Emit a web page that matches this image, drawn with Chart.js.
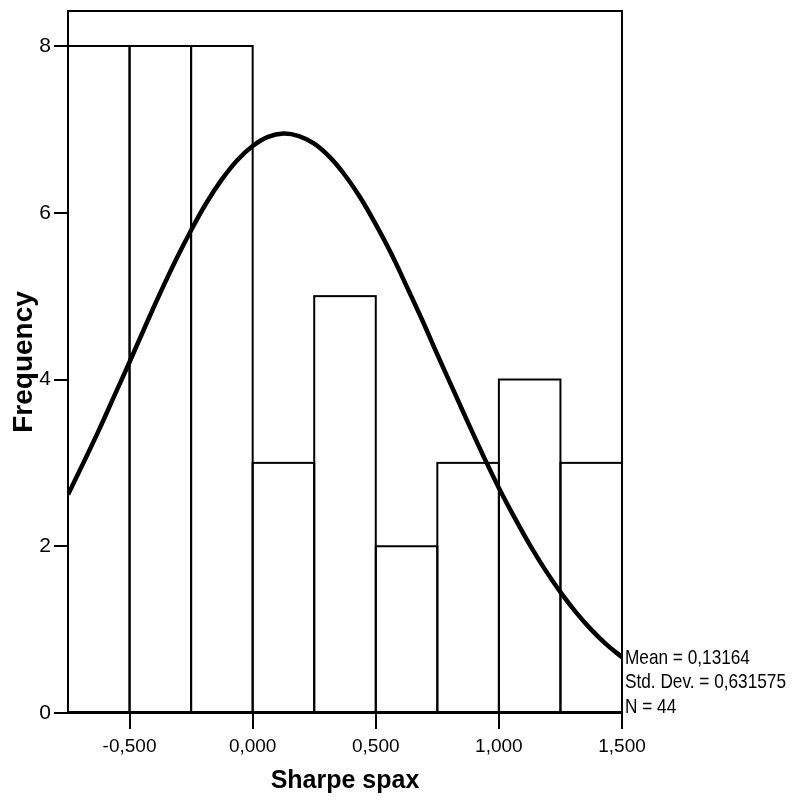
<!DOCTYPE html>
<html>
<head>
<meta charset="utf-8">
<script src="https://cdn.jsdelivr.net/npm/chart.js@4"></script>
<style>
  html, body { margin: 0; padding: 0; background: #fff; }
  #wrap { width: 798px; height: 800px; }
</style>
</head>
<body>
<div id="wrap"><canvas id="hist"></canvas></div>
<script>
// histogram bins (centres) and counts
const binCenters = [-0.625, -0.375, -0.125, 0.125, 0.375, 0.625, 0.875, 1.125, 1.375];
const binCounts = [8, 8, 8, 3, 5, 2, 3, 4, 3];

// normal curve
const curveX = [-0.75, -0.6875, -0.625, -0.5625, -0.5, -0.4375, -0.375, -0.3125, -0.25, -0.1875,
                -0.125, -0.0625, 0, 0.0625, 0.125, 0.1875, 0.25, 0.3125, 0.375, 0.4375,
                0.5, 0.5625, 0.625, 0.6875, 0.75, 0.8125, 0.875, 0.9375, 1.0, 1.0625,
                1.125, 1.1875, 1.25, 1.3125, 1.375, 1.4375, 1.5];
const curveY = [2.62, 3.00, 3.39, 3.80, 4.21, 4.63, 5.04, 5.43, 5.79, 6.12,
                6.40, 6.63, 6.80, 6.91, 6.95, 6.92, 6.83, 6.67, 6.45, 6.18,
                5.86, 5.51, 5.12, 4.72, 4.30, 3.89, 3.48, 3.08, 2.70, 2.35,
                2.02, 1.72, 1.45, 1.21, 1.00, 0.82, 0.67];

const xTicks = [-0.5, 0, 0.5, 1.0, 1.5];
const yTicks = [0, 2, 4, 6, 8];
const statsLines = ['Mean = 0,13164', 'Std. Dev. = 0,631575', 'N = 44'];

const font = '"Liberation Sans", Arial, sans-serif';

const framePlugin = {
    id: 'frame',
    afterDatasetDraw(chart, args) {
        // outline the histogram bars before the curve goes on top
        if (args.meta.type !== 'bar') return;
        const ctx = chart.ctx;
        ctx.save();
        ctx.strokeStyle = '#000';
        ctx.lineWidth = 2;
        args.meta.data.forEach(bar => {
            const p = bar.getProps(['x', 'y', 'base', 'width'], true);
            ctx.strokeRect(p.x - p.width / 2, p.y, p.width, p.base - p.y);
        });
        ctx.restore();
    },
    afterDatasetsDraw(chart) {
        const a = chart.chartArea;
        const ctx = chart.ctx;
        ctx.save();
        ctx.strokeStyle = '#000';
        ctx.lineWidth = 2;
        ctx.strokeRect(a.left, a.top, a.right - a.left, a.bottom - a.top);
        ctx.restore();
    },
    afterDraw(chart) {
        const a = chart.chartArea;
        const ctx = chart.ctx;
        ctx.save();
        ctx.fillStyle = '#000';
        ctx.font = '21px ' + font;
        ctx.textAlign = 'left';
        ctx.textBaseline = 'middle';
        statsLines.forEach((t, i) => {
            ctx.save();
            ctx.translate(a.right + 3, a.bottom - 6 - (statsLines.length - 1 - i) * 24.5);
            ctx.scale(0.82, 1);
            ctx.fillText(t, 0, 0);
            ctx.restore();
        });
        ctx.restore();
    }
};

const ctx = document.getElementById('hist').getContext('2d');
new Chart(ctx, {
    type: 'bar',
    data: {
        datasets: [
            {
                type: 'line',
                data: curveX.map((x, i) => ({ x: x, y: curveY[i] })),
                borderColor: '#000',
                borderWidth: 4.5,
                pointRadius: 0,
                tension: 0.4,
                order: 0
            },
            {
                type: 'bar',
                data: binCenters.map((x, i) => ({ x: x, y: binCounts[i] })),
                backgroundColor: 'rgba(0,0,0,0)',
                borderWidth: 0,
                barPercentage: 1,
                categoryPercentage: 1,
                order: 1
            }
        ]
    },
    options: {
        responsive: true,
        maintainAspectRatio: false,
        animation: false,
        layout: { padding: { top: 11, right: 176, left: 0, bottom: 0 } },
        plugins: {
            legend: { display: false },
            tooltip: { enabled: false }
        },
        scales: {
            x: {
                type: 'linear',
                min: -0.75,
                max: 1.5,
                offset: false,
                afterBuildTicks: s => { s.ticks = xTicks.map(v => ({ value: v })); },
                afterFit: s => { s.height = 87; },
                grid: { offset: false, drawOnChartArea: false, drawTicks: true, tickLength: 16, color: '#000', lineWidth: 2 },
                border: { display: true, color: '#000', width: 2 },
                ticks: {
                    color: '#000',
                    padding: 6,
                    maxRotation: 0,
                    font: { family: font, size: 19 },
                    callback: v => v.toFixed(3).replace('.', ',')
                },
                title: {
                    display: true,
                    text: 'Sharpe spax',
                    color: '#000',
                    font: { family: font, size: 25, weight: 'bold' },
                    padding: { top: 0, bottom: 4 }
                }
            },
            y: {
                min: 0,
                max: 8.42,
                afterBuildTicks: s => { s.ticks = yTicks.map(v => ({ value: v })); },
                afterFit: s => { s.width = 68; s.paddingTop = 0; },
                grid: { drawOnChartArea: false, drawTicks: true, tickLength: 14, color: '#000', lineWidth: 2 },
                border: { display: true, color: '#000', width: 2 },
                ticks: {
                    color: '#000',
                    padding: 3,
                    font: { family: font, size: 21 }
                },
                title: {
                    display: true,
                    text: 'Frequency',
                    color: '#000',
                    font: { family: font, size: 28, weight: 'bold' },
                    padding: { top: 7, bottom: 0 }
                }
            }
        }
    },
    plugins: [framePlugin]
});
</script>
</body>
</html>
